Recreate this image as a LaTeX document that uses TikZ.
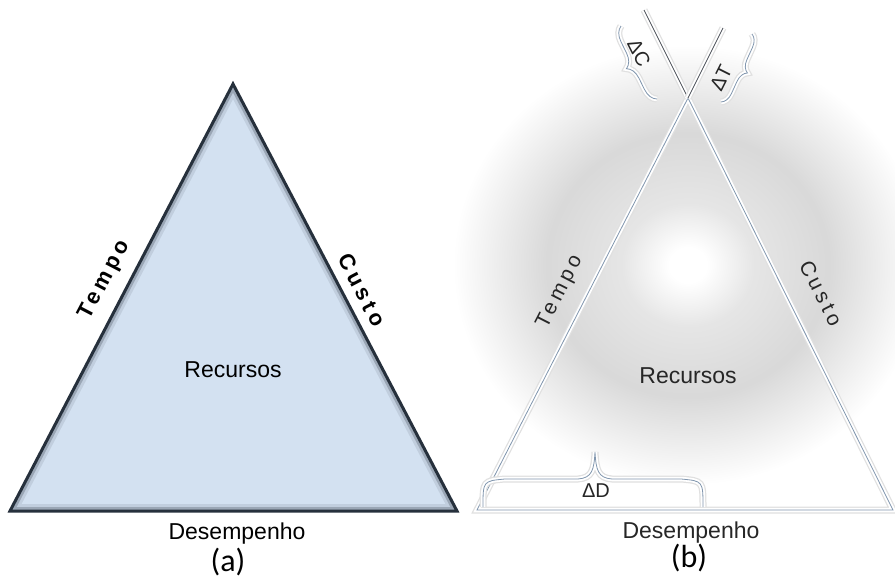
\documentclass[tikz,border=0pt]{standalone}
\usepackage{fontspec}
\setmainfont{Liberation Sans}
\newfontfamily\capfont{Carlito}
\newfontfamily\spacedfont[LetterSpace=18]{Liberation Sans}
\usetikzlibrary{calc,decorations.pathreplacing}
\definecolor{panelblue}{HTML}{D3E1F1}
\definecolor{edgenavy}{HTML}{26303C}
\definecolor{embossline}{HTML}{8196AE}
\definecolor{embossdark}{HTML}{4A4F57}
\pgfdeclareradialshading{halo}{\pgfpoint{0bp}{0bp}}{color(0bp)=(white); color(2bp)=(white); color(7bp)=(black!10); color(15bp)=(black!15); color(21bp)=(black!6); color(25bp)=(white); color(50bp)=(white)}
\tikzset{
  embossed/.style={draw=embossline, line width=0.8pt,
    preaction={draw=black!12, line width=7pt},
    preaction={draw=white, line width=4.5pt}},
  sidelabel/.style={font=\spacedfont\bfseries\fontsize{22}{22}\selectfont},
  bsidelabel/.style={font=\spacedfont\fontsize{21}{21}\selectfont, text=black!85},
  midlabel/.style={font=\fontsize{23}{23}\selectfont},
  baselabel/.style={font=\fontsize{23}{23}\selectfont},
  captionlabel/.style={font=\capfont\fontsize{32}{32}\selectfont},
  deltalabel/.style={font=\fontsize{20}{20}\selectfont, text=black!85}
}
\begin{document}
\begin{tikzpicture}[x=1pt,y=-1pt]
  \useasboundingbox[fill=white] (0,0) rectangle (895,578);

  %%% (a)
  \coordinate (atop) at (233,84);
  \coordinate (aleft) at (10,511);
  \coordinate (aright) at (457,511);
  \fill[panelblue] (atop) -- (aleft) -- (aright) -- cycle;
  \begin{scope}
    \clip (atop) -- (aleft) -- (aright) -- cycle;
    \draw[edgenavy, opacity=0.10, line width=14pt] (atop) -- (aleft) -- (aright) -- cycle;
    \draw[edgenavy, opacity=0.25, line width=8pt] (atop) -- (aleft) -- (aright) -- cycle;
  \end{scope}
  \draw[edgenavy, line width=3pt] (atop) -- (aleft) -- (aright) -- cycle;

  \node[sidelabel, rotate=62.4] (atempo) at (105,280) {Tempo};
  \node[sidelabel, rotate=-62.3] (acusto) at (362,290) {Custo};
  \node[midlabel] (arecursos) at (233,370) {Recursos};
  \node[baselabel] (adesemp) at (237,534) {Desempenho};
  \node[captionlabel] (acap) at (228,562) {(a)};

  %%% (b)
  \shade[shading=halo] (688,265) ellipse [x radius=235, y radius=220];

  \coordinate (bapex) at (688,98);
  \coordinate (bleft) at (477,510);
  \coordinate (bright) at (893,510);
  \coordinate (ctop) at (644,10);
  \coordinate (ttop) at (723,28);

  \draw[embossed] (bleft) -- (bapex) -- (bright) -- cycle;
  \draw[embossed, draw=embossdark] (bapex) -- (ctop);
  \draw[embossed, draw=embossdark] (bapex) -- (ttop);

  % braces
  \coordinate (cbrlow) at (657,99);
  \coordinate (cbrhigh) at (621,26);
  \coordinate (tbrhigh) at (752,34);
  \coordinate (tbrlow) at (721,102);
  \draw[embossed, decorate, decoration={brace, amplitude=14pt}] (cbrlow) -- (cbrhigh);
  \draw[embossed, decorate, decoration={brace, amplitude=12pt}] (tbrhigh) -- (tbrlow);
  \draw[embossed] (483,507) .. controls (483,481) .. (505,479) -- (578,479)
    .. controls (592,478) and (594,470) .. (595,452)
    .. controls (596,470) and (598,478) .. (612,479) -- (681,479)
    .. controls (703,481) .. (703,507);

  \node[deltalabel, rotate=-63.4] (dc) at (639,53) {ΔC};
  \node[deltalabel, rotate=63.4] (dt) at (721,78) {ΔT};
  \node[deltalabel] (dd) at (596,491) {ΔD};

  \node[bsidelabel, rotate=63] (btempo) at (560,292) {Tempo};
  \node[bsidelabel, rotate=-63] (bcusto) at (821,293) {Custo};
  \node[midlabel, text=black!85] (brecursos) at (688,376) {Recursos};
  \node[baselabel, text=black!85] (bdesemp) at (691,533) {Desempenho};
  \node[captionlabel] (bcap) at (689,558) {(b)};
\end{tikzpicture}
\end{document}
